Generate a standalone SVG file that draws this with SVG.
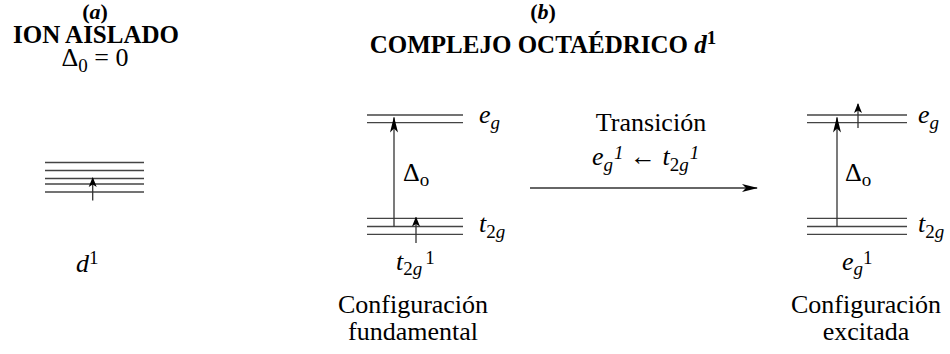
<svg xmlns="http://www.w3.org/2000/svg" width="950" height="354" viewBox="0 0 950 354">
<defs>
<style>
text{font-family:"Liberation Serif","Times New Roman",serif;font-size:26px;fill:#000}
.h{font-size:25px;font-weight:bold}
.p{font-size:22px;font-weight:bold}
.i{font-style:italic}
.n{font-style:normal}
.sub{font-size:19px}
.lvl{stroke:#444;stroke-width:1.3;fill:none}
.arr{stroke:#333;stroke-width:1.3;fill:none}
</style>
<marker id="hs" viewBox="0 0 10 10" refX="9" refY="5" markerWidth="10" markerHeight="10" markerUnits="userSpaceOnUse" orient="auto">
<path d="M0,1 L10,5 L0,9 L2.5,5 Z" fill="#000"/>
</marker>
<marker id="hb" viewBox="0 0 16 10" refX="15" refY="5" markerWidth="16" markerHeight="10" markerUnits="userSpaceOnUse" orient="auto">
<path d="M0,1 L16,5 L0,9 L4,5 Z" fill="#000"/>
</marker>
</defs>
<g id="title-a">
<text x="95" y="19" text-anchor="middle" class="p">(<tspan class="i">a</tspan>)</text>
<text x="96" y="43" text-anchor="middle" class="h">ION AISLADO</text>
<text x="95" y="66" text-anchor="middle">Δ<tspan class="sub" dy="6">0</tspan><tspan dy="-6"> = 0</tspan></text>
</g>

<g id="title-b">
<text x="543" y="19" text-anchor="middle" class="p">(<tspan class="i">b</tspan>)</text>
<text x="543" y="53" text-anchor="middle" class="h">COMPLEJO OCTAÉDRICO <tspan class="i">d</tspan><tspan class="sub" dy="-9">1</tspan></text>
</g>

<g id="ion-aislado">
<line class="lvl" x1="45" y1="162.5" x2="144" y2="162.5"/>
<line class="lvl" x1="45" y1="170.5" x2="144" y2="170.5"/>
<line class="lvl" x1="45" y1="178.5" x2="144" y2="178.5"/>
<line class="lvl" x1="45" y1="184" x2="144" y2="184"/>
<line class="lvl" x1="45" y1="192" x2="144" y2="192"/>
<text x="76" y="272" class="i">d<tspan class="sub n" dy="-8">1</tspan></text>
</g>

<g id="fundamental">
<line class="lvl" x1="367" y1="115" x2="463" y2="115"/>
<line class="lvl" x1="367" y1="122.7" x2="463" y2="122.7"/>
<line class="lvl" x1="367" y1="218.3" x2="463" y2="218.3"/>
<line class="lvl" x1="367" y1="226.5" x2="463" y2="226.5"/>
<line class="lvl" x1="367" y1="234.3" x2="463" y2="234.3"/>
<text x="479" y="123" class="i">e<tspan class="sub" dy="6">g</tspan></text>
<text x="479" y="232" class="i">t<tspan class="sub n" dy="6">2</tspan><tspan class="sub">g</tspan></text>
<text x="403" y="181">Δ<tspan class="sub" dy="5">o</tspan></text>
<text x="396" y="270" class="i">t<tspan class="sub n" dy="5">2</tspan><tspan class="sub">g</tspan><tspan class="sub n" dy="-11" dx="3">1</tspan></text>
<text x="413" y="313" text-anchor="middle">Configuración</text>
<text x="413" y="340" text-anchor="middle">fundamental</text>
</g>

<g id="transicion">
<text x="651" y="131" text-anchor="middle">Transición</text>
<text x="592" y="165" class="i">e<tspan class="sub" dy="6">g</tspan><tspan class="sub" dy="-12" dx="1">1</tspan><tspan class="n" dy="6"> ← </tspan>t<tspan class="sub n" dy="6">2</tspan><tspan class="sub">g</tspan><tspan class="sub" dy="-12" dx="1">1</tspan></text>
</g>

<g id="excitada">
<line class="lvl" x1="807" y1="115" x2="907" y2="115"/>
<line class="lvl" x1="807" y1="122.7" x2="907" y2="122.7"/>
<line class="lvl" x1="807" y1="218.3" x2="907" y2="218.3"/>
<line class="lvl" x1="807" y1="226.5" x2="907" y2="226.5"/>
<line class="lvl" x1="807" y1="234.3" x2="907" y2="234.3"/>
<text x="918" y="123" class="i">e<tspan class="sub" dy="6">g</tspan></text>
<text x="918" y="232" class="i">t<tspan class="sub n" dy="6">2</tspan><tspan class="sub">g</tspan></text>
<text x="845" y="181">Δ<tspan class="sub" dy="5">o</tspan></text>
<text x="842" y="270" class="i">e<tspan class="sub" dy="5">g</tspan><tspan class="sub n" dy="-11">1</tspan></text>
<text x="866" y="313" text-anchor="middle">Configuración</text>
<text x="866" y="340" text-anchor="middle">excitada</text>
</g>

<g id="connectors">
<line class="arr" x1="92.7" y1="200.5" x2="92.7" y2="178" marker-end="url(#hs)"/>
<line class="arr" x1="394" y1="226.5" x2="394" y2="117.5" marker-end="url(#hb)"/>
<line class="arr" x1="416" y1="243" x2="416" y2="217.5" marker-end="url(#hs)"/>
<line class="arr" x1="530" y1="188" x2="757" y2="188" marker-end="url(#hb)"/>
<line class="arr" x1="837" y1="226.5" x2="837" y2="117.5" marker-end="url(#hb)"/>
<line class="arr" x1="858" y1="128" x2="858" y2="104" marker-end="url(#hs)"/>
</g>
</svg>
